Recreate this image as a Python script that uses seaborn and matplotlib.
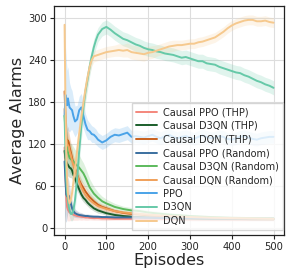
import matplotlib
matplotlib.use("Agg")
import matplotlib.pyplot as plt
import seaborn as sns
import numpy as np

# ---------------- data ----------------
base_eps = [0, 2, 4, 6, 8, 10, 12, 15, 18, 21, 25, 30, 35, 40, 45, 50, 55, 60, 65, 70, 75, 80,
            90, 100, 110, 120, 130, 140, 150, 160, 170, 180, 190, 200, 210, 220, 230, 240, 250,
            260, 270, 280, 290, 300, 310, 320, 330, 340, 350, 360, 370, 380, 390, 400, 410, 420,
            430, 440, 450, 460, 470, 480, 490, 500]

ppo = [160, 190, 180, 175, 185, 178, 172, 170, 168, 160, 152, 155, 168, 172, 160, 148, 140, 138, 134, 133, 130, 126,
       122, 125, 130, 133, 132, 134, 136, 130, 131, 130, 129, 131, 133, 130, 128, 131, 133,
       130, 128, 130, 131, 129, 127, 130, 132, 130, 128, 129, 131, 130, 127, 126, 128, 130,
       131, 129, 127, 126, 128, 129, 130, 130]
ppo_band = [60, 70, 60, 50, 45, 40, 35, 30, 28, 25, 22, 20, 20, 20, 18, 15, 14, 12, 12, 11, 11, 10,
            10, 10, 10, 10, 10, 10, 10, 9, 9, 9, 9, 9, 9, 9, 9, 9, 9,
            9, 9, 9, 9, 9, 9, 9, 9, 9, 9, 9, 9, 9, 9, 9, 9, 9,
            9, 9, 9, 9, 9, 9, 9, 9]

d3qn = [160, 110, 70, 50, 40, 30, 25, 20, 20, 25, 40, 70, 110, 145, 172, 195, 212, 230, 245, 258, 268, 276,
        284, 287, 283, 278, 274, 270, 268, 265, 262, 260, 257, 255, 254, 252, 251, 249, 248,
        247, 245, 243, 244, 242, 240, 238, 238, 235, 234, 233, 230, 228, 226, 224, 222, 221,
        218, 216, 213, 210, 208, 205, 203, 200]
d3qn_band = [40, 35, 30, 20, 15, 12, 10, 10, 10, 12, 15, 18, 20, 20, 18, 16, 15, 14, 12, 12, 11, 10,
             10, 10, 10, 10, 10, 10, 10, 10, 10, 10, 10, 10, 10, 10, 10, 10, 10,
             10, 10, 10, 10, 10, 10, 10, 10, 10, 10, 10, 10, 10, 10, 10, 10, 10,
             10, 10, 10, 10, 10, 10, 10, 10]

dqn = [290, 180, 110, 70, 50, 40, 35, 40, 50, 65, 85, 110, 135, 158, 178, 198, 215, 230, 240, 245, 246, 247,
       249, 251, 252, 253, 254, 253, 254, 251, 250, 249, 248, 250, 251, 253, 255, 257, 259,
       260, 261, 261, 262, 263, 263, 265, 266, 268, 270, 272, 276, 280, 285, 289, 292, 294,
       296, 297, 297, 295, 295, 296, 294, 293]
dqn_band = [10, 30, 30, 25, 20, 18, 15, 15, 15, 18, 20, 20, 20, 18, 16, 14, 12, 10, 9, 8, 8, 8,
            8, 8, 8, 8, 9, 9, 10, 10, 10, 10, 10, 9, 9, 8, 8, 8, 8,
            8, 7, 7, 7, 7, 7, 7, 7, 7, 7, 7, 7, 7, 7, 7, 7, 7,
            7, 7, 7, 7, 7, 7, 7, 7]

causal_eps = [0, 2, 4, 6, 8, 10, 12, 15, 18, 21, 25, 30, 35, 40, 45, 50, 55, 60, 70, 80, 90, 100,
              120, 140, 160, 180, 200, 250, 300, 350, 400, 450, 500]

cppo_thp = [115, 80, 45, 30, 26, 24, 22, 21, 20, 19, 18, 17, 16.5, 16, 15.5, 15, 15, 14.5, 14, 14, 13.5, 13.5,
            13, 13, 13, 12.5, 12.5, 12.5, 12, 12, 12, 12, 12]
cppo_thp_band = [30, 30, 25, 20, 16, 14, 12, 10, 9, 8, 7, 6, 5, 5, 4, 4, 4, 3, 3, 3, 3, 3,
                 2, 2, 2, 2, 2, 2, 2, 2, 2, 2, 2]

cd3qn_thp = [110, 100, 95, 92, 90, 88, 86, 85, 82, 76, 70, 62, 55, 48, 43, 40, 36, 33, 28, 25, 23, 21,
             18.5, 17, 16, 15.5, 15, 14, 13.5, 13, 13, 12.5, 12.5]
cd3qn_thp_band = [25, 22, 20, 18, 16, 15, 14, 13, 12, 11, 10, 9, 8, 7, 6, 6, 5, 5, 4, 4, 3, 3,
                  3, 2, 2, 2, 2, 2, 2, 2, 2, 2, 2]

cdqn_thp = [195, 160, 130, 120, 125, 122, 115, 108, 100, 92, 84, 76, 68, 62, 57, 52, 48, 44, 38, 33, 30, 28,
            24, 21.5, 20, 19, 18, 16, 15, 14, 13.5, 13, 13]
cdqn_thp_band = [30, 28, 25, 22, 20, 18, 16, 14, 13, 12, 11, 10, 9, 8, 7, 7, 6, 6, 5, 4, 4, 4,
                 3, 3, 3, 3, 2, 2, 2, 2, 2, 2, 2]

cppo_rnd = [95, 70, 48, 45, 47, 46, 42, 35, 28, 24, 21, 19.5, 18.5, 18, 17.5, 17, 17, 16.5, 16, 16, 15.5, 15.5,
            15, 15, 15, 14.5, 14.5, 14, 14, 13.5, 13.5, 13.5, 13.5]
cppo_rnd_band = [75, 60, 40, 30, 25, 22, 18, 14, 10, 8, 6, 5, 4, 4, 3, 3, 3, 3, 3, 2, 2, 2,
                 2, 2, 2, 2, 2, 2, 2, 2, 2, 2, 2]

cd3qn_rnd = [160, 140, 125, 115, 108, 104, 100, 98, 97, 95, 92, 89, 86, 82, 78, 72, 65, 58, 49, 43, 38, 35,
             30, 27, 25, 24, 22, 19, 17, 15.5, 14.5, 14, 13.5]
cd3qn_rnd_band = [30, 28, 26, 25, 24, 23, 22, 22, 22, 21, 20, 19, 18, 16, 15, 14, 13, 12, 10, 8, 7, 6,
                  5, 4, 4, 3, 3, 3, 2, 2, 2, 2, 2]

cdqn_rnd = [170, 150, 130, 120, 118, 116, 110, 104, 96, 90, 84, 75, 66, 58, 52, 47, 43, 40, 35, 31, 29, 27,
            24, 22, 21, 20, 19, 17, 15.5, 14.5, 14, 13.5, 13]
cdqn_rnd_band = [30, 28, 25, 22, 20, 18, 16, 15, 14, 13, 12, 11, 10, 9, 8, 7, 6, 6, 5, 5, 4, 4,
                 3, 3, 3, 3, 2, 2, 2, 2, 2, 2, 2]

labels = ["Causal PPO (THP)", "Causal D3QN (THP)", "Causal DQN (THP)",
          "Causal PPO (Random)", "Causal D3QN (Random)", "Causal DQN (Random)",
          "PPO", "D3QN", "DQN"]
colors = ["#f4877c", "#1b5e2b", "#c8601d",
          "#3a6f9f", "#5cba5c", "#f0a05a",
          "#4aa3e8", "#66c9a8", "#f6c98e"]

series = [
    (causal_eps, cppo_thp, cppo_thp_band),
    (causal_eps, cd3qn_thp, cd3qn_thp_band),
    (causal_eps, cdqn_thp, cdqn_thp_band),
    (causal_eps, cppo_rnd, cppo_rnd_band),
    (causal_eps, cd3qn_rnd, cd3qn_rnd_band),
    (causal_eps, cdqn_rnd, cdqn_rnd_band),
    (base_eps, ppo, ppo_band),
    (base_eps, d3qn, d3qn_band),
    (base_eps, dqn, dqn_band),
]

# ---------------- plot ----------------
sns.set_style("whitegrid", {"axes.edgecolor": "#222222", "grid.color": "#dddddd",
                            "xtick.bottom": True, "ytick.left": True})
plt.rcParams["font.family"] = ["DejaVu Sans"]

fig, ax = plt.subplots(figsize=(2.91, 2.80), dpi=100)
fig.subplots_adjust(left=0.186, right=0.976, top=0.979, bottom=0.161)

for (x, y, b), lab, col in zip(series, labels, colors):
    xa = np.asarray(x, float)
    ya = np.asarray(y, float)
    ba = np.asarray(b, float)
    ax.fill_between(xa, ya - ba, ya + ba, color=col, alpha=0.2, linewidth=0)
    sns.lineplot(x=xa, y=ya, color=col, label=lab, ax=ax, linewidth=1.4)

ax.set_xlim(-25, 525)
ax.set_ylim(-10, 317)
ax.set_xticks([0, 100, 200, 300, 400, 500])
ax.set_yticks([0, 60, 120, 180, 240, 300])
ax.tick_params(axis="both", labelsize=7.2, length=3, width=0.8, color="#222222", pad=2)
ax.set_xlabel("Episodes", fontsize=11.5, labelpad=1)
ax.set_ylabel("Average Alarms", fontsize=11.5, labelpad=2)
for s in ax.spines.values():
    s.set_linewidth(0.9)

ax.legend(loc="lower right", bbox_to_anchor=(0.996, 0.022), fontsize=7, labelspacing=0.37,
          borderpad=0.4, handlelength=2.2, handletextpad=0.6, framealpha=0.8,
          borderaxespad=0.0, fancybox=False, edgecolor="#cccccc")

fig.savefig("out.png", dpi=100)
